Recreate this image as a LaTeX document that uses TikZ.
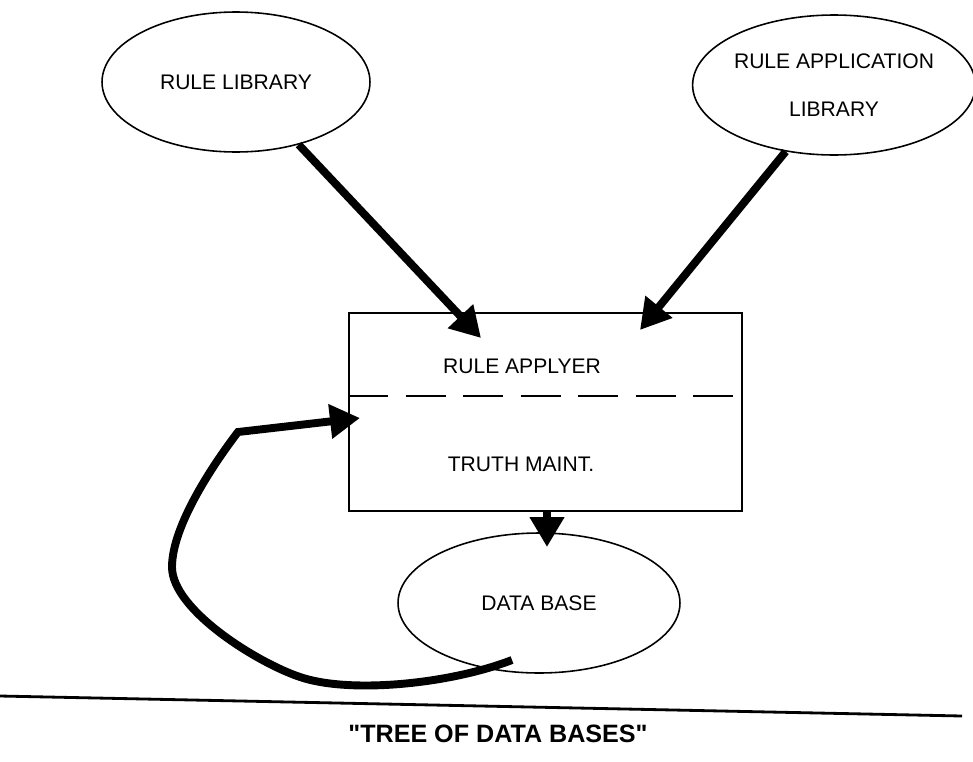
\documentclass[tikz,border=0pt]{standalone}
\usepackage{fontspec}
\setmainfont{Liberation Sans}
\usetikzlibrary{shapes.geometric,arrows.meta}

\begin{document}
\begin{tikzpicture}[x=0.02cm, y=-0.02cm,
    oval/.style={draw, ellipse, line width=0.9pt, inner sep=0pt, minimum height=2.8cm, font=\fontsize{12}{14.4}\selectfont},
    fat/.style={line width=4.5pt, -{Triangle[length=0.6cm, width=0.66cm]}}]
    \useasboundingbox (0,0) rectangle (973,761);
    \node[oval, minimum width=5.36cm] (RL) at (236,82) {RULE LIBRARY};
    \node[oval, minimum width=5.56cm, align=center] (RAL) at (834,85) {RULE APPLICATION\\[13pt]LIBRARY};
    \node[draw, line width=1pt, minimum width=7.86cm, minimum height=3.96cm] (RA) at (545.5,412) {};
    \node[font=\fontsize{12}{14.4}\selectfont] (RAtop) at (522,366) {RULE APPLYER};
    \node[font=\fontsize{12}{14.4}\selectfont] (RAbot) at (521,464) {TRUTH MAINT.};
    \draw[line width=1pt, dash pattern=on 0.8cm off 0.35cm] (RA.west |- 0,396) -- (RA.east |- 0,396);
    \node[oval, minimum width=5.64cm] (DB) at (539,603) {DATA BASE};
    \coordinate (tipA) at (481,338);
    \coordinate (tipB) at (640,330);
    \coordinate (tipC) at (547,547);
    \coordinate (tipD) at (360,418);
    \coordinate (foot) at (512,660);
    \coordinate (bend) at (238,432);
    \draw[fat] (RL.-45) -- (tipA);
    \draw[fat] (RAL.234) -- (tipB);
    \draw[fat] (RA.south -| tipC) -- (tipC);
    \draw[fat] (foot) .. controls (450,684) and (350,694) .. (300,677)
      .. controls (258,663) and (172,610) .. (172,567)
      .. controls (172,525) and (215,462) .. (bend) -- (tipD);
    \draw[line width=1.6pt] (0,696) -- (962,716);
    \node[font=\fontsize{14.3}{17}\selectfont\bfseries] (T) at (498,734) {\textquotedbl TREE OF DATA BASES\textquotedbl};
\end{tikzpicture}
\end{document}
